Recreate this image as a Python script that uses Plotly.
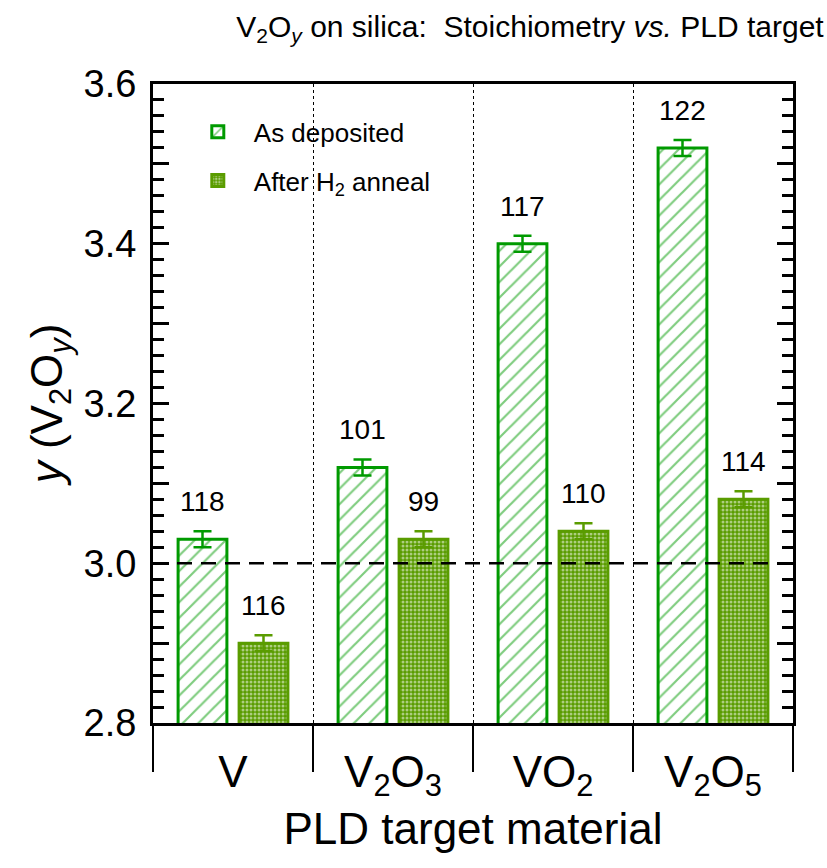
import plotly.graph_objects as go

categories = ["V", "V<sub>2</sub>O<sub>3</sub>", "VO<sub>2</sub>", "V<sub>2</sub>O<sub>5</sub>"]
as_deposited = [3.03, 3.12, 3.40, 3.52]
as_deposited_err = [0.01, 0.01, 0.01, 0.01]
after_anneal = [2.90, 3.03, 3.04, 3.08]
after_anneal_err = [0.01, 0.01, 0.01, 0.01]
label_dep = ["118", "101", "117", "122"]
label_ann = ["116", "99", "110", "114"]
reference_y = 3.0

GREEN = "#009a00"
OLIVE = "#5a9c00"
FONT = "Liberation Sans, Arial, Helvetica, sans-serif"
BARGAP = 0.2375
GROUPGAP = 0.2

fig = go.Figure()
fig.add_trace(go.Bar(
    x=categories, y=as_deposited, name="As deposited", legendgroup="a",
    marker=dict(color="white", line=dict(color=GREEN, width=3),
                pattern=dict(shape="/", fgcolor=GREEN, bgcolor="white", size=11, solidity=0.2)),
    error_y=dict(type="data", array=as_deposited_err, color=GREEN, thickness=2.5, width=9),
))
fig.add_trace(go.Bar(
    x=categories, y=after_anneal, name="After H<sub>2</sub> anneal", legendgroup="b",
    marker=dict(color=OLIVE, line=dict(color=OLIVE, width=3),
                pattern=dict(shape=".", fgcolor="white", bgcolor=OLIVE, size=4, solidity=0.45)),
    error_y=dict(type="data", array=after_anneal_err, color=OLIVE, thickness=2.5, width=9),
))

off = (1 - BARGAP) / 4
for i in range(len(categories)):
    fig.add_annotation(x=i - off, y=as_deposited[i] + as_deposited_err[i], xref="x", yref="y",
                       text=label_dep[i], showarrow=False, yanchor="bottom", yshift=12,
                       font=dict(size=28, color="black", family=FONT))
    fig.add_annotation(x=i + off, y=after_anneal[i] + after_anneal_err[i], xref="x", yref="y",
                       text=label_ann[i], showarrow=False, yanchor="bottom", yshift=12,
                       font=dict(size=28, color="black", family=FONT))

fig.add_shape(type="line", xref="paper", yref="y", x0=0, x1=1, y0=reference_y, y1=reference_y,
              line=dict(color="black", width=2.5, dash="15px,9px"), layer="above")

ytickvals = [round(2.8 + 0.1 * k, 1) for k in range(9)]
yticktext = [f"{v:.1f}" if k % 2 == 0 else "" for k, v in enumerate(ytickvals)]

fig.update_layout(
    width=827, height=868,
    margin=dict(l=153, r=34, t=84, b=145),
    paper_bgcolor="white", plot_bgcolor="white",
    barmode="group", bargap=BARGAP, bargroupgap=GROUPGAP,
    font=dict(family=FONT, color="black"),
    title=dict(text="V<sub>2</sub>O<sub><i>y</i></sub> on silica:\u00a0 Stoichiometry <i>vs.</i> PLD target",
               x=0.996, xref="container", xanchor="right", y=0.982, yref="container", yanchor="top",
               font=dict(size=30, family=FONT, color="black")),
    legend=dict(x=0.045, y=0.962, xanchor="left", yanchor="top", bgcolor="rgba(0,0,0,0)",
                font=dict(size=26, family=FONT), tracegroupgap=12, traceorder="grouped",
                itemwidth=62),
    showlegend=True,
)
fig.update_xaxes(
    type="category", range=[-0.5, 3.5], tickson="boundaries",
    ticks="outside", ticklen=46, tickwidth=2, tickcolor="black",
    showline=True, linewidth=3, linecolor="black", mirror=True,
    showgrid=True, gridcolor="black", gridwidth=1, griddash="dot",
    tickfont=dict(size=44, family=FONT), ticklabelstandoff=8,
    title=dict(text="PLD target material", font=dict(size=44, family=FONT), standoff=12),
)
fig.update_yaxes(
    range=[2.8, 3.6], tickvals=ytickvals, ticktext=yticktext,
    ticks="inside", ticklen=16, tickwidth=3, tickcolor="black",
    minor=dict(dtick=0.02, tick0=2.8, ticks="inside", ticklen=11, tickwidth=3, tickcolor="black"),
    showline=True, linewidth=3, linecolor="black", mirror="ticks",
    showgrid=False, zeroline=False,
    tickfont=dict(size=38, family=FONT), ticklabelstandoff=6,
    title=dict(text="<i>y</i> (V<sub>2</sub>O<sub><i>y</i></sub>)", font=dict(size=44, family=FONT), standoff=8),
)

fig.write_html("out.html")
